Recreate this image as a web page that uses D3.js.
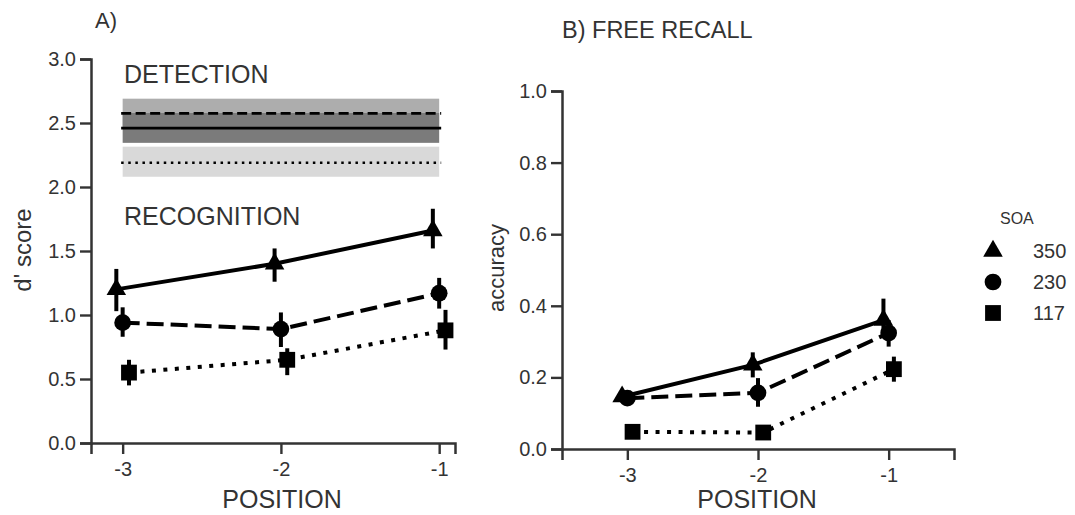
<!DOCTYPE html>
<html>
<head>
<meta charset="utf-8">
<script src="https://cdn.jsdelivr.net/npm/d3@7"></script>
<style>
    body { margin: 0; background: #fff; }
    text { font-family: "Liberation Sans", Arial, sans-serif; fill: #333; }
</style>
</head>
<body>
<svg id="plot"></svg>
<script>
// x positions and SOA levels
const positions = [-3, -2, -1];
const soaLevels = ["350", "230", "117"];
const posTicks = [-3, -2, -1];
const dTicks = [0, 0.5, 1.0, 1.5, 2.0, 2.5, 3.0];
const accTicks = [0, 0.2, 0.4, 0.6, 0.8, 1.0];

// A) recognition d' (mean, ci low, ci high) per SOA
const dp350 = [1.20, 1.40, 1.66];
const dp350Lo = [1.03, 1.26, 1.52];
const dp350Hi = [1.36, 1.52, 1.83];
const dp230 = [0.94, 0.89, 1.17];
const dp230Lo = [0.83, 0.75, 1.05];
const dp230Hi = [1.06, 1.02, 1.29];
const dp117 = [0.55, 0.65, 0.88];
const dp117Lo = [0.45, 0.53, 0.73];
const dp117Hi = [0.65, 0.74, 1.04];

// A) detection d' per SOA (350, 230, 117)
const detMean = [2.46, 2.575, 2.19];
const detLo = [2.345, 2.46, 2.08];
const detHi = [2.578, 2.69, 2.315];

// B) free recall accuracy per SOA
const rc350 = [0.146, 0.235, 0.36];
const rc350Lo = [0.13, 0.20, 0.32];
const rc350Hi = [0.165, 0.27, 0.42];
const rc230 = [0.142, 0.157, 0.324];
const rc230Lo = [0.125, 0.118, 0.286];
const rc230Hi = [0.16, 0.198, 0.36];
const rc117 = [0.048, 0.046, 0.223];
const rc117Lo = [0.04, 0.038, 0.188];
const rc117Hi = [0.058, 0.055, 0.258];

const svg = d3.select("#plot")
    .attr("width", 1075)
    .attr("height", 515);

const ink = "#333";
const dodge = { "350": -0.04, "230": 0, "117": 0.04 };
const dashFor = { "350": null, "230": "17,7", "117": "4,7.5" };
const symbolFor = {
    "350": d3.symbol().type(d3.symbolTriangle).size(165),
    "230": d3.symbol().type(d3.symbolCircle).size(220),
    "117": d3.symbol().type(d3.symbolSquare).size(250)
};

function buildSeries(means, los, his) {
    return soaLevels.map((soa, s) => ({
        soa: soa,
        pts: positions.map((p, i) => ({ x: p, y: means[s][i], lo: los[s][i], hi: his[s][i] }))
    }));
}

const recog = buildSeries([dp350, dp230, dp117], [dp350Lo, dp230Lo, dp117Lo], [dp350Hi, dp230Hi, dp117Hi]);
const recall = buildSeries([rc350, rc230, rc117], [rc350Lo, rc230Lo, rc117Lo], [rc350Hi, rc230Hi, rc117Hi]);

// axes in seaborn "ticks" style (plain hyphen for negatives)
function drawAxes(xScale, yScale, yTicks, yFmt) {
    const g = svg.append("g");
    const xAxis = g.append("g")
        .attr("transform", `translate(0, ${yScale.range()[0]})`)
        .call(d3.axisBottom(xScale).tickValues(posTicks).tickSize(11).tickPadding(8).tickFormat(d => String(d)));
    const yAxis = g.append("g")
        .attr("transform", `translate(${xScale.range()[0]}, 0)`)
        .call(d3.axisLeft(yScale).tickValues(yTicks).tickSize(11).tickPadding(4).tickFormat(yFmt));
    [xAxis, yAxis].forEach(a => {
        a.select(".domain").attr("stroke", ink).attr("stroke-width", 2.5);
        a.selectAll(".tick line").attr("stroke", ink).attr("stroke-width", 2.4);
        a.selectAll(".tick text").style("font-size", "20px").attr("fill", ink);
    });
}

function drawPoints(series, xScale, yScale) {
    const line = d3.line()
        .x(d => xScale(d.x + dodge[d.soa]))
        .y(d => yScale(d.y));

    series.forEach(s => {
        s.pts.forEach(p => p.soa = s.soa);
        const g = svg.append("g");

        // error bars
        g.selectAll(".err")
            .data(s.pts)
            .enter().append("line")
            .attr("x1", d => xScale(d.x + dodge[s.soa]))
            .attr("x2", d => xScale(d.x + dodge[s.soa]))
            .attr("y1", d => yScale(d.lo))
            .attr("y2", d => yScale(d.hi))
            .attr("stroke", "#000")
            .attr("stroke-width", 4);

        // connecting line
        g.append("path")
            .datum(s.pts)
            .attr("d", line)
            .attr("fill", "none")
            .attr("stroke", "#000")
            .attr("stroke-width", 4)
            .attr("stroke-dasharray", dashFor[s.soa]);

        // markers
        g.selectAll(".mk")
            .data(s.pts)
            .enter().append("path")
            .attr("d", symbolFor[s.soa])
            .attr("transform", d => `translate(${xScale(d.x + dodge[s.soa])}, ${yScale(d.y)})`)
            .attr("fill", "#000");
    });
}

// ---- panel A ----
const xA = d3.scaleLinear().domain([-3.2, -0.9]).range([91, 455]);
const yA = d3.scaleLinear().domain([0, 3]).range([443, 59]);

// detection bands: 230 first, 350 on top, then 117
const bandColor = ["#7b7b7b", "#adadad", "#d9d9d9"];
const bandDash = [null, "10,4.5", "2.5,4.6"];
[1, 0, 2].forEach(i => {
    svg.append("rect")
        .attr("x", xA(-3))
        .attr("width", xA(-1) - xA(-3))
        .attr("y", yA(detHi[i]))
        .attr("height", yA(detLo[i]) - yA(detHi[i]))
        .attr("fill", bandColor[i]);
});
[0, 1, 2].forEach(i => {
    svg.append("line")
        .attr("x1", xA(-3) - 1.5)
        .attr("x2", xA(-1) + 2)
        .attr("y1", yA(detMean[i]))
        .attr("y2", yA(detMean[i]))
        .attr("stroke", "#000")
        .attr("stroke-width", 2.6)
        .attr("stroke-dasharray", bandDash[i]);
});

drawAxes(xA, yA, dTicks, d3.format(".1f"));
drawPoints(recog, xA, yA);

svg.append("text").attr("x", 124).attr("y", 83).style("font-size", "25px").text("DETECTION");
svg.append("text").attr("x", 124).attr("y", 225).style("font-size", "25px").text("RECOGNITION");
svg.append("text").attr("x", 95).attr("y", 28).style("font-size", "22px").text("A)");
svg.append("text").attr("x", 282).attr("y", 508).attr("text-anchor", "middle").style("font-size", "25px").text("POSITION");
svg.append("text")
    .attr("transform", "translate(31, 250) rotate(-90)")
    .attr("text-anchor", "middle")
    .style("font-size", "24px")
    .text("d' score");

// ---- panel B ----
const xB = d3.scaleLinear().domain([-3.5, -0.5]).range([562, 954]);
const yB = d3.scaleLinear().domain([0, 1]).range([449, 91]);

drawAxes(xB, yB, accTicks, d3.format(".1f"));
drawPoints(recall, xB, yB);

svg.append("text").attr("x", 562).attr("y", 38).style("font-size", "23.5px").text("B) FREE RECALL");
svg.append("text").attr("x", 757).attr("y", 508).attr("text-anchor", "middle").style("font-size", "25px").text("POSITION");
svg.append("text")
    .attr("transform", "translate(504, 268) rotate(-90)")
    .attr("text-anchor", "middle")
    .style("font-size", "22px")
    .text("accuracy");

// ---- legend ----
const legend = svg.append("g");
legend.append("text").attr("x", 1000).attr("y", 224).style("font-size", "16px").text("SOA");
soaLevels.forEach((soa, i) => {
    const cy = 251 + i * 31;
    legend.append("path")
        .attr("d", symbolFor[soa])
        .attr("transform", `translate(993, ${cy})`)
        .attr("fill", "#000");
    legend.append("text")
        .attr("x", 1033)
        .attr("y", cy + 7)
        .style("font-size", "20px")
        .text(soa);
});
</script>
</body>
</html>
